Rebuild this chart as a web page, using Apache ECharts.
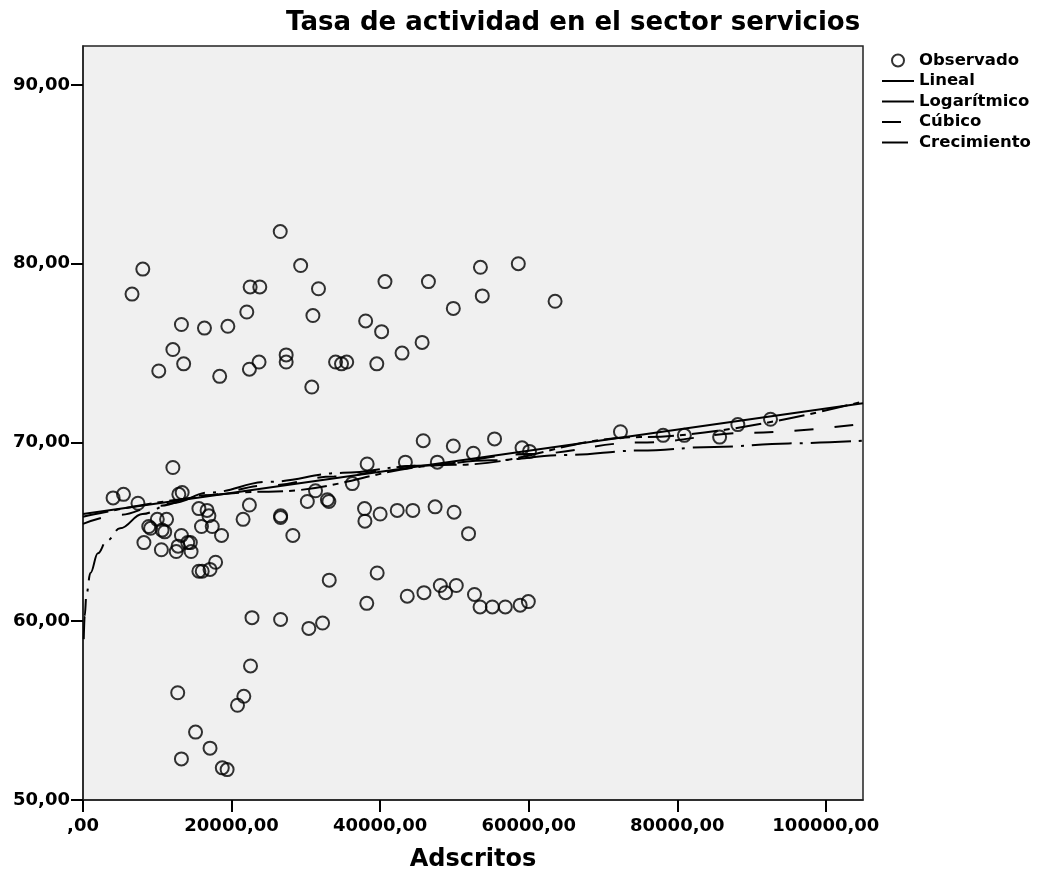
<!DOCTYPE html>
<html>
<head>
<meta charset="utf-8">
<script src="https://cdn.jsdelivr.net/npm/echarts@6/dist/echarts.min.js"></script>
<style>
  html, body { margin: 0; padding: 0; background: #fff; }
  #chart { width: 1038px; height: 878px; }
</style>
</head>
<body>
<div id="chart"></div>
<script>
// Observed points: adscritos (x) and tasa de actividad (y)
const obsX = [
  26550, 8050, 6600, 29300, 22500, 23800, 31700, 40650, 22050, 30950, 38050, 40200,
  13250, 16350, 19500, 12100, 13550, 10200, 18400, 22400, 23700, 27350, 27350, 34000,
  34800, 35500, 39550, 30800, 42950, 45650, 49850, 53750, 53500, 58600, 63550, 46500,
  12100, 4050, 5450, 7400, 12900, 13350, 10000, 11250, 8850, 9100, 10650, 11000,
  8200, 10550, 12550, 12800, 13250, 14100, 14450, 14550, 15600, 16700, 16950, 15950,
  17400, 18650, 17850, 15600, 16050, 17100, 22400, 21550, 26600, 26600, 28250, 30200,
  31300, 32900, 33100, 36250, 38250, 37900, 37950, 40000, 33150, 39600, 38200, 22750,
  26600, 30400, 32250, 43400, 47700, 45800, 49850, 52550, 55400, 59100, 60100, 72350,
  78100, 80950, 85700, 88150, 92550, 42300, 44400, 47400, 49950, 51900, 43650, 45900,
  48100, 48800, 50250, 52700, 53450, 55100, 56850, 58850, 59950, 22550, 12750, 21650,
  20800, 15150, 17100, 13250, 18750, 19400
];
const obsY = [
  81.8, 79.7, 78.3, 79.9, 78.7, 78.7, 78.6, 79.0, 77.3, 77.1, 76.8, 76.2,
  76.6, 76.4, 76.5, 75.2, 74.4, 74.0, 73.7, 74.1, 74.5, 74.9, 74.5, 74.5,
  74.4, 74.5, 74.4, 73.1, 75.0, 75.6, 77.5, 78.2, 79.8, 80.0, 77.9, 79.0,
  68.6, 66.9, 67.1, 66.6, 67.1, 67.2, 65.7, 65.7, 65.3, 65.2, 65.1, 65.0,
  64.4, 64.0, 63.9, 64.2, 64.8, 64.4, 64.4, 63.9, 66.3, 66.2, 65.9, 65.3,
  65.3, 64.8, 63.3, 62.8, 62.8, 62.9, 66.5, 65.7, 65.9, 65.8, 64.8, 66.7,
  67.3, 66.8, 66.7, 67.7, 68.8, 66.3, 65.6, 66.0, 62.3, 62.7, 61.0, 60.2,
  60.1, 59.6, 59.9, 68.9, 68.9, 70.1, 69.8, 69.4, 70.2, 69.7, 69.5, 70.6,
  70.4, 70.4, 70.3, 71.0, 71.3, 66.2, 66.2, 66.4, 66.1, 64.9, 61.4, 61.6,
  62.0, 61.6, 62.0, 61.5, 60.8, 60.8, 60.8, 60.9, 61.1, 57.5, 56.0, 55.8,
  55.3, 53.8, 52.9, 52.3, 51.8, 51.7
];

// Fitted curves, read along their paths
const linX = [0, 105000];
const linY = [66.0, 72.2];

const logX = [100, 230, 460, 1000, 2000, 3200, 5000, 8000, 12000, 17000, 25000, 35000, 45000, 55000, 65000, 75000, 85000, 95000, 105000];
const logY = [59.0, 60.3, 61.5, 62.7, 63.8, 64.5, 65.2, 66.0, 66.6, 67.2, 67.8, 68.3, 68.7, 69.0, 69.3, 69.55, 69.75, 69.95, 70.1];

const cubX = [0, 5000, 10000, 16300, 25000, 33800, 45000, 60000, 75000, 90000, 105000];
const cubY = [65.45, 65.95, 66.45, 67.05, 67.6, 68.1, 68.7, 69.35, 70.0, 70.55, 71.05];

const groX = [0, 25000, 50000, 75000, 105000];
const groY = [65.85, 67.25, 68.75, 70.3, 72.3];

const xTicks = [0, 20000, 40000, 60000, 80000, 100000];
const yTicks = [50, 60, 70, 80, 90];

const seriesNames = ['Observado', 'Lineal', 'Logarítmico', 'Cúbico', 'Crecimiento'];

const zip = (xs, ys) => xs.map((x, i) => [x, ys[i]]);
const fmt = v => (v === 0 ? ',00' : v.toFixed(2).replace('.', ','));
const FONT = 'DejaVu Sans';

const lineSeries = (name, xs, ys, type) => ({
  name,
  type: 'line',
  data: zip(xs, ys),
  symbol: 'none',
  smooth: 0.4,
  smoothMonotone: 'x',
  // no point markers, so the legend shows only the stroke pattern
  itemStyle: { color: '#000', opacity: 0 },
  lineStyle: { color: '#000', width: 2, type },
  emphasis: { disabled: true },
  silent: true,
  z: 2
});

const chart = echarts.init(document.getElementById('chart'), null, { renderer: 'canvas' });
chart.setOption({
  animation: false,
  backgroundColor: '#fff',
  title: {
    text: 'Tasa de actividad en el sector servicios',
    left: 286,
    top: 10,
    padding: 0,
    textStyle: { fontFamily: FONT, fontWeight: 'bold', fontSize: 26, color: '#000' }
  },
  legend: {
    orient: 'vertical',
    left: 881,
    top: 52,
    padding: 0,
    itemWidth: 32,
    itemHeight: 12,
    itemGap: 3.5,
    selectedMode: false,
    data: seriesNames,
    textStyle: { fontFamily: FONT, fontWeight: 'bold', fontSize: 16.5, color: '#000' }
  },
  grid: {
    left: 83,
    right: 175,
    top: 46,
    bottom: 78,
    show: true,
    backgroundColor: '#f0f0f0',
    borderColor: '#222',
    borderWidth: 1.5
  },
  xAxis: {
    type: 'value',
    min: 0,
    max: 105000,
    interval: 20000,
    name: 'Adscritos',
    nameLocation: 'middle',
    nameGap: 48,
    nameTextStyle: { fontFamily: FONT, fontWeight: 'bold', fontSize: 24, color: '#000' },
    axisLine: { show: true, onZero: false, lineStyle: { color: '#222', width: 1.5 } },
    axisTick: { show: true, inside: false, length: 12, customValues: xTicks, lineStyle: { color: '#000', width: 2 } },
    axisLabel: {
      customValues: xTicks,
      margin: 17,
      formatter: fmt,
      fontFamily: FONT, fontWeight: 'bold', fontSize: 18, color: '#000'
    },
    splitLine: { show: false }
  },
  yAxis: {
    type: 'value',
    min: 50,
    max: 92.18,
    interval: 10,
    axisLine: { show: true, onZero: false, lineStyle: { color: '#222', width: 1.5 } },
    axisTick: { show: true, inside: false, length: 12, customValues: yTicks, lineStyle: { color: '#000', width: 2 } },
    axisLabel: {
      customValues: yTicks,
      margin: 13,
      formatter: v => v.toFixed(2).replace('.', ','),
      fontFamily: FONT, fontWeight: 'bold', fontSize: 18, color: '#000'
    },
    splitLine: { show: false }
  },
  series: [
    {
      name: 'Observado',
      type: 'scatter',
      data: zip(obsX, obsY),
      symbol: 'circle',
      symbolSize: 13,
      itemStyle: { color: 'rgba(0,0,0,0)', borderColor: '#000', borderWidth: 2 },
      emphasis: { disabled: true },
      silent: true,
      z: 3
    },
    lineSeries('Lineal', linX, linY, 'solid'),
    lineSeries('Logarítmico', logX, logY, [40, 8, 3, 8]),
    lineSeries('Cúbico', cubX, cubY, [19, 21]),
    lineSeries('Crecimiento', groX, groY, [26, 6, 6, 6])
  ]
});
</script>
</body>
</html>
